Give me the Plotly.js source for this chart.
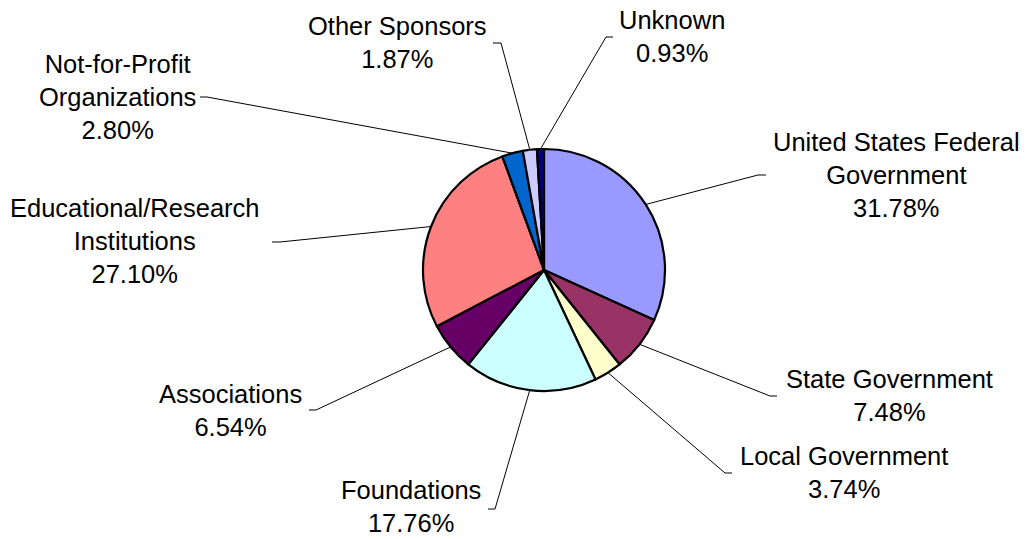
<!DOCTYPE html>
<html>
<head>
<meta charset="utf-8">
<script src="https://cdn.plot.ly/plotly-3.0.1.min.js"></script>
<style>html,body{margin:0;padding:0;background:#fff;}#chart{width:1029px;height:539px;}</style>
</head>
<body>
<div id="chart"></div>
<script>
// ---- data ----
const categories = ["United States Federal Government", "State Government", "Local Government", "Foundations", "Associations", "Educational/Research Institutions", "Not-for-Profit Organizations", "Other Sponsors", "Unknown"];
const labelLines = ["United States Federal<br>Government", "State Government", "Local Government", "Foundations", "Associations", "Educational/Research<br>Institutions", "Not-for-Profit<br>Organizations", "Other Sponsors", "Unknown"];
const shares = [31.78, 7.48, 3.74, 17.76, 6.54, 27.10, 2.80, 1.87, 0.93];
const colors = ["#9999FF", "#993366", "#FFFFCC", "#CCFFFF", "#660066", "#FF8080", "#0066CC", "#CCCCFF", "#000080"];

// ---- layout (pixels) ----
const W = 1029, H = 539;
const cx = 544, cy = 270, R = 121;
// label centre [x, y] and leader elbow [outerX, innerX, y]
const labelPos = [[896, 175], [889, 395], [844, 472], [411, 506], [230, 410], [134, 241], [117, 97], [397, 43], [672, 37]];
const elbows = [[766, 758, 175], [777, 770, 396], [732, 725, 473], [488, 495, 509], [309, 316, 410], [272, 280, 242], [200, 207, 97], [493, 501, 43], [613, 606, 37]];

const px = x => x / W, py = y => 1 - y / H;

const total = shares.reduce((a, b) => a + b, 0);
let cum = 0;
const annotations = [], shapes = [];
shares.forEach((v, i) => {
  const mid = (cum + v / 2) / total; cum += v;
  const th = 2 * Math.PI * mid;
  const ax = cx + R * Math.sin(th), ay = cy - R * Math.cos(th);
  const e = elbows[i];
  shapes.push({type: 'path', xref: 'paper', yref: 'paper',
    path: `M ${px(e[0])} ${py(e[2])} L ${px(e[1])} ${py(e[2])} L ${px(ax)} ${py(ay)}`,
    line: {color: '#000', width: 1}});
  annotations.push({xref: 'paper', yref: 'paper', x: px(labelPos[i][0]), y: py(labelPos[i][1]),
    xanchor: 'center', yanchor: 'middle', showarrow: false, align: 'center', borderpad: 0,
    text: labelLines[i] + '<br>' + v.toFixed(2) + '%',
    font: {family: 'Liberation Sans, Arial, sans-serif', size: 25.5, color: '#000'}});
});

const trace = {
  type: 'pie', labels: categories, values: shares, sort: false, direction: 'clockwise', rotation: 0,
  marker: {colors: colors, line: {color: '#000', width: 2.2}},
  textinfo: 'none', hoverinfo: 'label+percent', showlegend: false,
  domain: {x: [px(cx - R), px(cx + R)], y: [py(cy + R), py(cy - R)]}
};

Plotly.newPlot('chart', [trace], {
  width: W, height: H, margin: {l: 0, r: 0, t: 0, b: 0},
  paper_bgcolor: '#fff', plot_bgcolor: '#fff', showlegend: false,
  annotations: annotations, shapes: shapes
}, {displayModeBar: false, staticPlot: true});
</script>
</body>
</html>
